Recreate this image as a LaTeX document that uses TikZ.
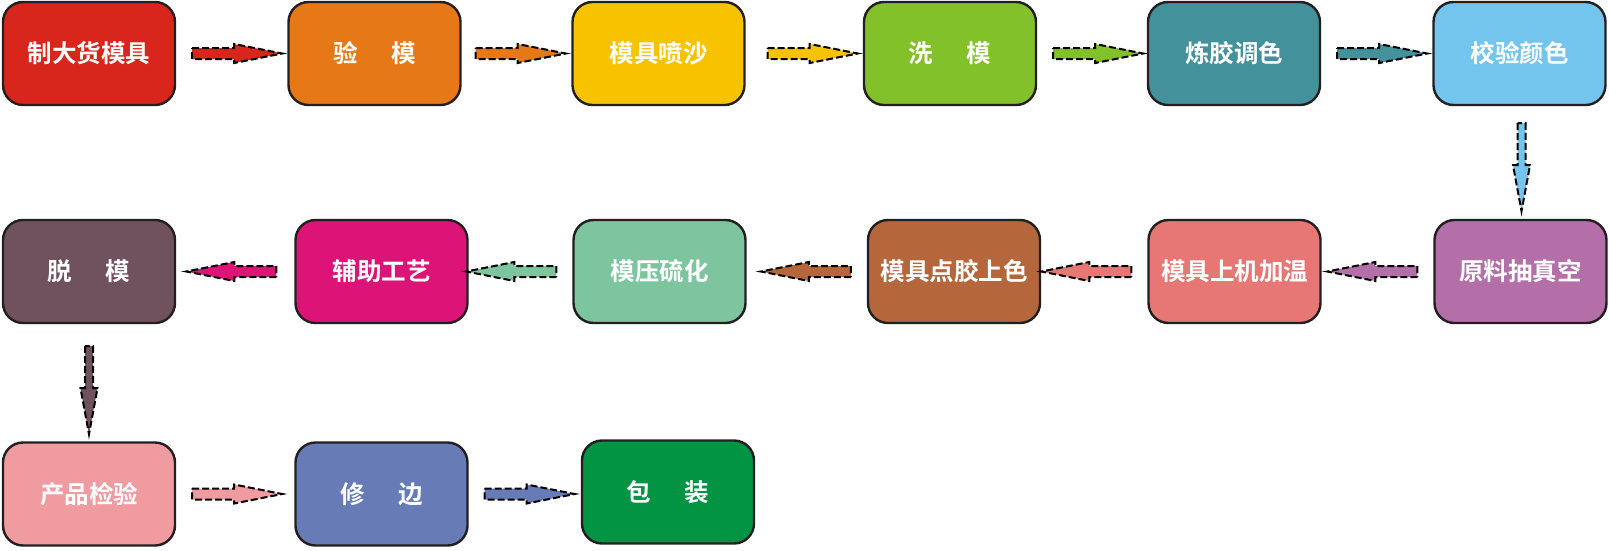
\documentclass[tikz,border=0pt]{standalone}
\usepackage{fontspec}
\newfontfamily\cjk{Noto Sans CJK SC}[BoldFont={Noto Sans CJK SC Bold}]
\usetikzlibrary{calc}
\definecolor{c1}{HTML}{D9261C}
\definecolor{c2}{HTML}{E67817}
\definecolor{c3}{HTML}{F7C200}
\definecolor{c4}{HTML}{83C12A}
\definecolor{c5}{HTML}{42919B}
\definecolor{c6}{HTML}{74C5EE}
\definecolor{c7}{HTML}{B46FA8}
\definecolor{c8}{HTML}{E77775}
\definecolor{c9}{HTML}{B5673B}
\definecolor{c10}{HTML}{7DC59F}
\definecolor{c11}{HTML}{DC1478}
\definecolor{c12}{HTML}{70525E}
\definecolor{c13}{HTML}{F09BA0}
\definecolor{c14}{HTML}{677CB6}
\definecolor{c15}{HTML}{039443}
\definecolor{edge}{HTML}{231F20}
\tikzset{
  stepbox/.style={draw=edge, line width=2.4pt, rounded corners=20pt,
    minimum width=172pt, minimum height=103pt, inner sep=0pt,
    text=white, font=\cjk\bfseries\fontsize{24.5}{28}\selectfont},
  arrline/.style={draw=black, line width=2pt, dash pattern=on 7pt off 3pt, line join=miter},
  harrow/.pic={\path[arrline, pic actions] (0,-5.5) -- (42,-5.5) -- (42,-9.5) -- (90,0) -- (42,9.5) -- (42,5.5) -- (0,5.5) -- cycle;},
  varrow/.pic={\path[arrline, pic actions] (-4,0) -- (-4,42) -- (-8.5,42) -- (0,88) -- (8.5,42) -- (4,42) -- (4,0) -- cycle;}
}
\newcommand{\gp}{\hspace{34pt}}
\begin{document}
\begin{tikzpicture}[x=1pt,y=-1pt]
\useasboundingbox (0,0) rectangle (1609,550);
% row 1
\node[stepbox, fill=c1] (b1) at (89,53.5) {制大货模具};
\node[stepbox, fill=c2] (b2) at (374.5,53.5) {验\gp 模};
\node[stepbox, fill=c3] (b3) at (658.5,53.5) {模具喷沙};
\node[stepbox, fill=c4] (b4) at (950,53.5) {洗\gp 模};
\node[stepbox, fill=c5] (b5) at (1234,53.5) {炼胶调色};
\node[stepbox, fill=c6] (b6) at (1519.5,53.5) {校验颜色};
% row 2
\node[stepbox, fill=c7] (b7) at (1520.5,271.5) {原料抽真空};
\node[stepbox, fill=c8] (b8) at (1234.5,271.5) {模具上机加温};
\node[stepbox, fill=c9] (b9) at (954,271.5) {模具点胶上色};
\node[stepbox, fill=c10] (b10) at (659.5,271.5) {模压硫化};
\node[stepbox, fill=c11] (b11) at (381.5,271.5) {辅助工艺};
\node[stepbox, fill=c12] (b12) at (89,271.5) {脱\gp 模};
% row 3
\node[stepbox, fill=c13] (b13) at (89,494) {产品检验};
\node[stepbox, fill=c14] (b14) at (381.5,494) {修\gp 边};
\node[stepbox, fill=c15] (b15) at (668,492) {包\gp 装};
% arrows row 1
\pic[fill=c1] at ($(b1.east)+(16,0)$) {harrow};
\pic[fill=c2] at ($(b2.east)+(14,0)$) {harrow};
\pic[fill=c3] at ($(b3.east)+(22,0)$) {harrow};
\pic[fill=c4] at ($(b4.east)+(16,0)$) {harrow};
\pic[fill=c5] at ($(b5.east)+(16,0)$) {harrow};
% down
\pic[fill=c6] at ($(b6.south)+(2,17)$) {varrow};
% arrows row 2 (leftwards)
\pic[fill=c7, rotate=180] at ($(b7.west)+(-16,0)$) {harrow};
\pic[fill=c8, rotate=180] at ($(b8.west)+(-16,0)$) {harrow};
\pic[fill=c9, rotate=180] at ($(b9.west)+(-16,0)$) {harrow};
\pic[fill=c10, rotate=180] at ($(b10.west)+(-16,0)$) {harrow};
\pic[fill=c11, rotate=180] at ($(b11.west)+(-18,0)$) {harrow};
% down
\pic[fill=c12] at ($(b12.south)+(0,22)$) {varrow};
% row 3
\pic[fill=c13] at ($(b13.east)+(16,0)$) {harrow};
\pic[fill=c14] at ($(b14.east)+(16,0)$) {harrow};
\end{tikzpicture}
\end{document}
